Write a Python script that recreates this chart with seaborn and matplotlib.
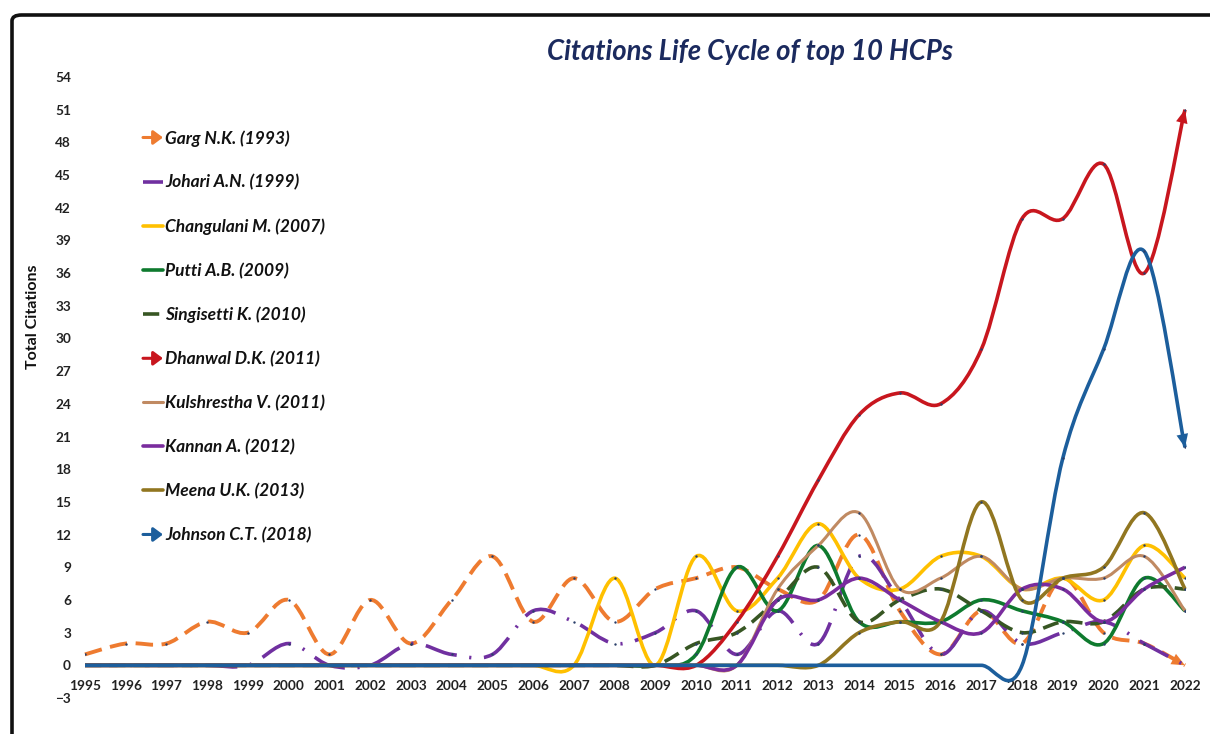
import numpy as np
import pandas as pd
import matplotlib
matplotlib.use("Agg")
import matplotlib.pyplot as plt
import seaborn as sns
from matplotlib.path import Path
from matplotlib.patches import PathPatch, FancyBboxPatch, FancyArrowPatch
from matplotlib.legend_handler import HandlerBase
from matplotlib.lines import Line2D

# ---------------- data ----------------
years = list(range(1995, 2023))
garg        = [1, 2, 2, 4, 3, 6, 1, 6, 2, 6, 10, 4, 8, 4, 7, 8, 9, 7, 6, 12, 5, 1, 5, 2, 8, 3, 2, 0]
johari      = [0, 0, 0, 0, 0, 2, 0, 0, 2, 1, 1, 5, 4, 2, 3, 5, 1, 5, 2, 10, 6, 1, 5, 2, 3, 4, 2, 0]
changulani  = [0, 0, 0, 0, 0, 0, 0, 0, 0, 0, 0, 0, 0, 8, 0, 10, 5, 8, 13, 8, 7, 10, 10, 7, 8, 6, 11, 8]
putti       = [0, 0, 0, 0, 0, 0, 0, 0, 0, 0, 0, 0, 0, 0, 0, 1, 9, 5, 11, 4, 4, 4, 6, 5, 4, 2, 8, 5]
singisetti  = [0, 0, 0, 0, 0, 0, 0, 0, 0, 0, 0, 0, 0, 0, 0, 2, 3, 6, 9, 4, 6, 7, 5, 3, 4, 4, 7, 7]
dhanwal     = [0, 0, 0, 0, 0, 0, 0, 0, 0, 0, 0, 0, 0, 0, 0, 0, 4, 10, 17, 23, 25, 24, 29, 41, 41, 46, 36, 51]
kulshrestha = [0, 0, 0, 0, 0, 0, 0, 0, 0, 0, 0, 0, 0, 0, 0, 0, 0, 7, 11, 14, 7, 8, 10, 7, 8, 8, 10, 5]
kannan      = [0, 0, 0, 0, 0, 0, 0, 0, 0, 0, 0, 0, 0, 0, 0, 0, 0, 6, 6, 8, 6, 4, 3, 7, 7, 4, 7, 9]
meena       = [0, 0, 0, 0, 0, 0, 0, 0, 0, 0, 0, 0, 0, 0, 0, 0, 0, 0, 0, 3, 4, 4, 15, 6, 8, 9, 14, 7]
johnson     = [0, 0, 0, 0, 0, 0, 0, 0, 0, 0, 0, 0, 0, 0, 0, 0, 0, 0, 0, 0, 0, 0, 0, 0, 19, 29, 38, 20]

labels = ["Garg N.K. (1993)", "Johari A.N. (1999)", "Changulani M. (2007)",
          "Putti A.B. (2009)", "Singisetti K. (2010)", "Dhanwal D.K. (2011)",
          "Kulshrestha V. (2011)", "Kannan A. (2012)", "Meena U.K. (2013)",
          "Johnson C.T. (2018)"]
series = [garg, johari, changulani, putti, singisetti, dhanwal,
          kulshrestha, kannan, meena, johnson]
title = "Citations Life Cycle of top 10 HCPs"
y_label = "Total Citations"
y_ticks = list(range(-3, 55, 3))

# ---------------- style ----------------
colors = ["#EE7B30", "#7030A0", "#FFC000", "#0E7A2E", "#375623", "#C8161E",
          "#C08A62", "#7A2C9E", "#917620", "#1C5E9C"]
styles = [(0, (4.5, 2.2)), (0, (9, 3.5, 0.6, 3.5)), "-", "-", (0, (4.5, 2.2)), "-",
          "-", "-", "-", "-"]
widths = [2.8, 2.6, 2.6, 2.6, 2.6, 2.6, 2.2, 2.6, 2.6, 2.6]
arrow_end = [True, False, False, False, False, True, False, False, False, True]

sns.set_theme(style="white")
FONT = "Lato"
plt.rcParams["font.family"] = [FONT, "DejaVu Sans"]

W, H = 1210, 734
fig = plt.figure(figsize=(W / 100, H / 100), dpi=100)
ax_left, ax_right, ax_top, ax_bot = 85, 1185, 77, 698
ax = fig.add_axes([ax_left / W, 1 - ax_bot / H, (ax_right - ax_left) / W, (ax_bot - ax_top) / H])
ax.set_facecolor("none")


def smooth_path(x, y):
    """Excel-style smoothed line: cubic Bezier through every data point."""
    x = np.asarray(x, float)
    y = np.asarray(y, float)
    n = len(x)
    verts = [(x[0], y[0])]
    codes = [Path.MOVETO]
    for i in range(n - 1):
        a = max(i - 1, 0)
        b = min(i + 2, n - 1)
        c1 = (x[i] + (x[i + 1] - x[a]) / 6, y[i] + (y[i + 1] - y[a]) / 6)
        c2 = (x[i + 1] - (x[b] - x[i]) / 6, y[i + 1] - (y[b] - y[i]) / 6)
        verts += [c1, c2, (x[i + 1], y[i + 1])]
        codes += [Path.CURVE4] * 3
    return Path(verts, codes), c2


for i, (lab, vals) in enumerate(zip(labels, series)):
    path, c2 = smooth_path(years, vals)
    patch = PathPatch(path, fill=False, edgecolor=colors[i], lw=widths[i],
                      linestyle=styles[i], capstyle="butt", joinstyle="round",
                      zorder=2 + i, clip_on=False)
    ax.add_patch(patch)
    if arrow_end[i]:
        end = (years[-1], vals[-1])
        ax.annotate("", xy=end, xytext=c2,
                    arrowprops=dict(arrowstyle="-|>,head_length=0.8,head_width=0.35",
                                    color=colors[i], lw=0.01, shrinkA=0, shrinkB=0),
                    zorder=3 + i, annotation_clip=False)

# small markers at the data points (as in the source chart)
df = pd.DataFrame({"Year": np.tile(years, len(series)),
                   "Citations": np.concatenate(series),
                   "Author": np.repeat(labels, len(years))})
sns.scatterplot(data=df[df["Citations"] > 0], x="Year", y="Citations",
                color="#2a3f6a", s=3, linewidth=0, legend=False, ax=ax, zorder=20)

ax.set_xlim(1995, 2022)
ax.set_ylim(-3, 54)
for s in ax.spines.values():
    s.set_visible(False)
ax.spines["bottom"].set_position(("data", 0))
ax.set_xticks(years)
ax.set_xticklabels([str(y) for y in years])
ax.set_yticks(y_ticks)
ax.set_yticklabels([("\u22123" if t < 0 else str(t)) for t in y_ticks])
ax.tick_params(axis="x", length=0, pad=10.5, labelsize=9.8, colors="#222222")
ax.tick_params(axis="y", length=0, pad=10, labelsize=9.8, colors="#222222")
for t in ax.get_xticklabels() + ax.get_yticklabels():
    t.set_fontweight("bold")
ax.set_xlabel("")
ax.set_ylabel(y_label, fontsize=11.5, fontweight="bold", color="#111111")
ax.yaxis.set_label_coords((40 - ax_left) / (ax_right - ax_left), (ax_bot - 317) / (ax_bot - ax_top))

fig.text(750 / W, 1 - 52 / H, title, ha="center", va="center", fontsize=19.8,
         fontweight="bold", fontstyle="italic", color="#1B2A5E")


# ---------------- legend ----------------
class ArrowHandler(HandlerBase):
    def create_artists(self, legend, orig_handle, xdescent, ydescent, width, height, fontsize, trans):
        y = height / 2 - ydescent
        arr = FancyArrowPatch((-xdescent, y), (-xdescent + width, y),
                              arrowstyle="-|>,head_length=3.5,head_width=2.6",
                              mutation_scale=1.6, color=orig_handle.get_color(),
                              lw=2.2, transform=trans, shrinkA=0, shrinkB=0)
        return [arr]


handles = []
handler_map = {}
for i in range(len(labels)):
    h = Line2D([], [], color=colors[i], lw=widths[i], linestyle=styles[i])
    handles.append(h)
    if arrow_end[i]:
        handler_map[h] = ArrowHandler()

leg = ax.legend(handles, labels, handler_map=handler_map, loc="upper left",
                bbox_to_anchor=(143 / W, 1 - 130 / H), bbox_transform=fig.transFigure,
                frameon=False, handlelength=1.15, handletextpad=0.12, labelspacing=1.6,
                borderaxespad=0, borderpad=0,
                prop=dict(family=FONT, weight="bold", style="italic", size=12.5))
for t in leg.get_texts():
    t.set_color("#111111")

# outer frame of the chart
frame = FancyBboxPatch((12 / W, -0.05), 1.2, (H - 15) / H + 0.05,
                       boxstyle="round,pad=0,rounding_size=0.008",
                       transform=fig.transFigure, fill=False, lw=2.6, ec="#111111")
fig.patches.append(frame)

fig.savefig("out.png", dpi=100)
